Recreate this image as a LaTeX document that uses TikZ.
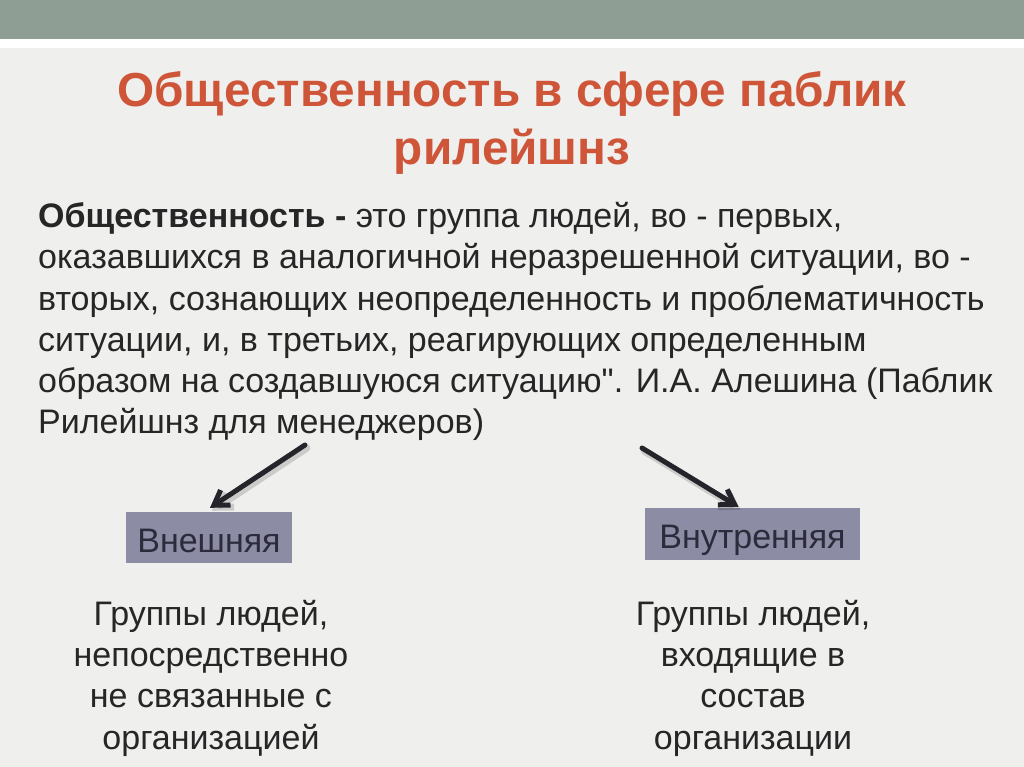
\documentclass[tikz,border=0pt]{standalone}
\usepackage{fontspec}
\setmainfont{Liberation Sans}[Ligatures=TeXOff]
\usetikzlibrary{arrows.meta}
\definecolor{barc}{HTML}{8F9E94}
\definecolor{bgc}{HTML}{EFEFED}
\definecolor{titlec}{HTML}{CF5539}
\definecolor{boxc}{HTML}{8D8CA5}
\definecolor{boxtxt}{HTML}{2B2B3B}
\definecolor{txt}{HTML}{262626}
\definecolor{arrc}{HTML}{25242B}
\tikzset{
  titletext/.style={text=titlec, align=center, inner sep=0pt, font=\fontsize{47.7}{58}\selectfont\bfseries},
  bodytext/.style={text=txt, align=left, inner sep=0pt, font=\fontsize{34}{41.3}\selectfont},
  desctext/.style={text=txt, align=center, inner sep=0pt, font=\fontsize{34}{41.3}\selectfont},
  kindbox/.style={fill=boxc, text=boxtxt, inner sep=0pt, text height=29pt, text depth=0pt, font=\fontsize{34}{40}\selectfont},
  arrowline/.style={draw=arrc, line width=5pt, line cap=round, -{Straight Barb[length=14pt,width=18pt,line width=5pt]}},
  arrowshadow/.style={draw=black, opacity=0.15, line width=7pt, line cap=round, -{Straight Barb[length=14pt,width=18pt,line width=7pt]}}
}
\begin{document}
\begin{tikzpicture}[x=1pt,y=-1pt]
\fill[bgc] (0,0) rectangle (1024,767);
\useasboundingbox (0,0) rectangle (1024,767);
\fill[barc] (0,0) rectangle (1024,39);
\fill[white!98!bgc] (0,39) rectangle (1024,48);

\node[titletext] (title) at (512,123) {Общественность в сфере паблик\\рилейшнз};

\node[bodytext, anchor=north west] (def) at (38,202) {\textbf{Общественность -} это группа людей, во - первых,\\оказавшихся в аналогичной неразрешенной ситуации, во -\\вторых, сознающих неопределенность и проблематичность\\ситуации, и, в третьих, реагирующих определенным\\образом на создавшуюся ситуацию". И.А. Алешина (Паблик\\Рилейшнз для менеджеров)};

\node[kindbox, minimum width=166pt, minimum height=51pt] (ext) at (209,537.5) {Внешняя};
\node[kindbox, minimum width=215pt, minimum height=52pt] (int) at (752.5,534) {Внутренняя};

\node[desctext] (extdesc) at (211,678) {Группы людей,\\непосредственно\\не связанные с\\организацией};
\node[desctext] (intdesc) at (753,678) {Группы людей,\\входящие в\\состав\\организации};

\coordinate (s1) at (305,445);
\coordinate (s2) at (642,448);
\coordinate (t1) at ([xshift=1pt,yshift=4pt]ext.north);
\coordinate (t2) at ([xshift=-14pt,yshift=1pt]int.north);

\draw[arrowshadow] ([shift={(2,3)}]s1) -- ([shift={(2,3)}]t1);
\draw[arrowshadow] ([shift={(2,3)}]s2) -- ([shift={(2,3)}]t2);
\draw[arrowline] (s1) -- (t1);
\draw[arrowline] (s2) -- (t2);
\end{tikzpicture}
\end{document}
